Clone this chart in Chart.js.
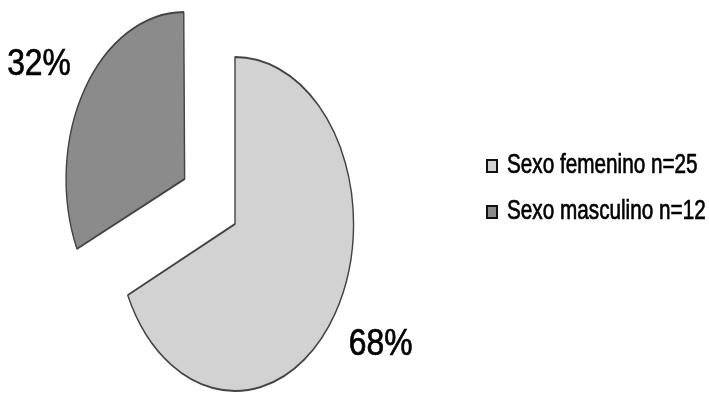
<!DOCTYPE html>
<html>
<head>
<meta charset="utf-8">
<script src="https://cdn.jsdelivr.net/npm/chart.js@4.4.0/dist/chart.umd.min.js"></script>
<style>
  html, body { margin: 0; padding: 0; background: #fff; }
  canvas { display: block; }
</style>
</head>
<body>
<canvas id="chart" width="709" height="394"></canvas>
<script>
const labels  = ["Sexo femenino n=25", "Sexo masculino n=12"];
const percent = [68, 32];
const colors  = ["#d2d2d2", "#8b8b8b"];
const explode = [0, 336];

const SQUASH = 0.71;      // pie is drawn as a tall ellipse
const FONT = "'Liberation Sans', Arial, sans-serif";

// squeeze the pie horizontally around its centre
const ellipse = {
  id: "ellipse",
  beforeDatasetsDraw(chart) {
    const meta = chart.getDatasetMeta(0);
    const r = meta.controller.outerRadius;
    meta.data.forEach(arc => {
      // keep the pulled-out slice the same size as the other one
      const off = (arc.options.offset || 0) / 4;
      const fix = 1 - Math.sin(Math.min(Math.PI, arc.circumference));
      arc.outerRadius = r - off * fix;
    });
    const {x, y} = meta.data[0];
    const ctx = chart.ctx;
    ctx.save();
    ctx.translate(x, y);
    ctx.scale(SQUASH, 1);
    ctx.translate(-x, -y);
  },
  afterDatasetsDraw(chart) {
    chart.ctx.restore();
  }
};

// narrow, slightly heavy text
function narrowText(ctx, txt, x, y, size, sx, align) {
  ctx.save();
  ctx.translate(x, y);
  ctx.scale(sx, 1);
  ctx.font = size + "px " + FONT;
  ctx.fillStyle = "#000";
  ctx.strokeStyle = "#000";
  ctx.lineWidth = 0.7;
  ctx.textAlign = align;
  ctx.textBaseline = "alphabetic";
  ctx.fillText(txt, 0, 0);
  ctx.strokeText(txt, 0, 0);
  ctx.restore();
}

// "68%" / "32%" outside each slice
const pctLabels = {
  id: "pctLabels",
  afterDraw(chart) {
    const ctx = chart.ctx;
    const meta = chart.getDatasetMeta(0);
    const r = meta.controller.outerRadius;
    const size = 37;
    meta.data.forEach((arc, i) => {
      const mid = (arc.startAngle + arc.endAngle) / 2;
      const shift = (arc.options.offset || 0) / 4;
      const cx = arc.x + Math.cos(mid) * shift * SQUASH;
      const cy = arc.y + Math.sin(mid) * shift;
      const a = mid - 0.04;
      const lx = cx + Math.cos(a) * r * 1.42 * SQUASH;
      const ly = cy + Math.sin(a) * r * 1.40;
      narrowText(ctx, percent[i] + "%", lx, ly + size * 0.36, size, 0.86, "center");
    });
  }
};

// legend on the right
const sideLegend = {
  id: "sideLegend",
  afterDraw(chart) {
    const ctx = chart.ctx;
    const x0 = 487, y0 = 173, step = 46;
    labels.forEach((txt, i) => {
      const base = y0 + i * step;
      ctx.save();
      ctx.fillStyle = colors[i];
      ctx.strokeStyle = "#111";
      ctx.lineWidth = 2;
      ctx.fillRect(x0, base - 13, 10, 12);
      ctx.strokeRect(x0, base - 13, 10, 12);
      ctx.restore();
      narrowText(ctx, txt, x0 + 20, base, 28, 0.74, "left");
    });
  }
};

new Chart(document.getElementById("chart"), {
  type: "pie",
  data: {
    labels: labels,
    datasets: [{
      data: percent,
      backgroundColor: colors,
      borderColor: "#444",
      borderWidth: 2,
      offset: explode
    }]
  },
  options: {
    responsive: false,
    animation: false,
    radius: 167,
    // area has to stay taller than the slice offset, so it runs past the bottom edge
    layout: { padding: { left: 0, right: 239, top: 54, bottom: -6 } },
    plugins: {
      legend: { display: false },
      tooltip: { enabled: false }
    }
  },
  plugins: [ellipse, pctLabels, sideLegend]
});
</script>
</body>
</html>
